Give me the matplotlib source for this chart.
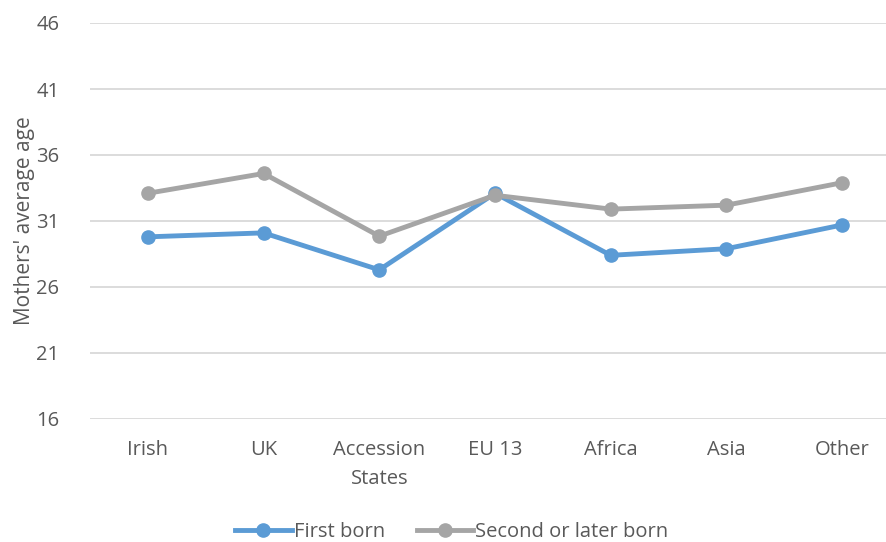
import matplotlib.pyplot as plt

# categories and values
categories = ['Irish', 'UK', 'Accession\nStates', 'EU 13', 'Africa', 'Asia', 'Other']
first_born = [29.8, 30.1, 27.3, 33.1, 28.4, 28.9, 30.7]
second_born = [33.1, 34.6, 29.85, 32.95, 31.9, 32.2, 33.9]
yticks = [16, 21, 26, 31, 36, 41, 46]

plt.rcParams['font.family'] = ['Open Sans', 'DejaVu Sans']
text_col = '#595959'

fig = plt.figure(figsize=(8.86, 5.42), dpi=100)
ax = fig.add_axes([90 / 886, 1 - 419 / 542, 810 / 886, 396 / 542])

x = list(range(len(categories)))
ax.plot(x, first_born, color='#5B9BD5', lw=3.5, marker='o', ms=9.5, label='First born', zorder=3)
ax.plot(x, second_born, color='#A5A5A5', lw=3.5, marker='o', ms=9.5, label='Second or later born', zorder=3)

ax.set_xlim(-0.5, 6.5)
ax.set_ylim(16, 46)
ax.set_yticks(yticks)
ax.set_xticks(x)
ax.set_xticklabels(categories, linespacing=1.6)
ax.grid(axis='y', color='#D9D9D9', lw=1.3)
ax.set_axisbelow(True)
for s in ax.spines.values():
    s.set_visible(False)
ax.tick_params(axis='both', length=0, labelsize=14.5, colors=text_col)
ax.tick_params(axis='x', pad=15)
ax.tick_params(axis='y', pad=22)
ax.set_ylabel("Mothers' average age", fontsize=15, color=text_col, labelpad=1)

fig.legend(loc='lower center', bbox_to_anchor=(0.51, -0.033), ncol=2, frameon=False,
           fontsize=14.5, labelcolor=text_col, handlelength=2.8, handletextpad=0.1,
           columnspacing=1.6)

fig.savefig('out.png', dpi=100)
